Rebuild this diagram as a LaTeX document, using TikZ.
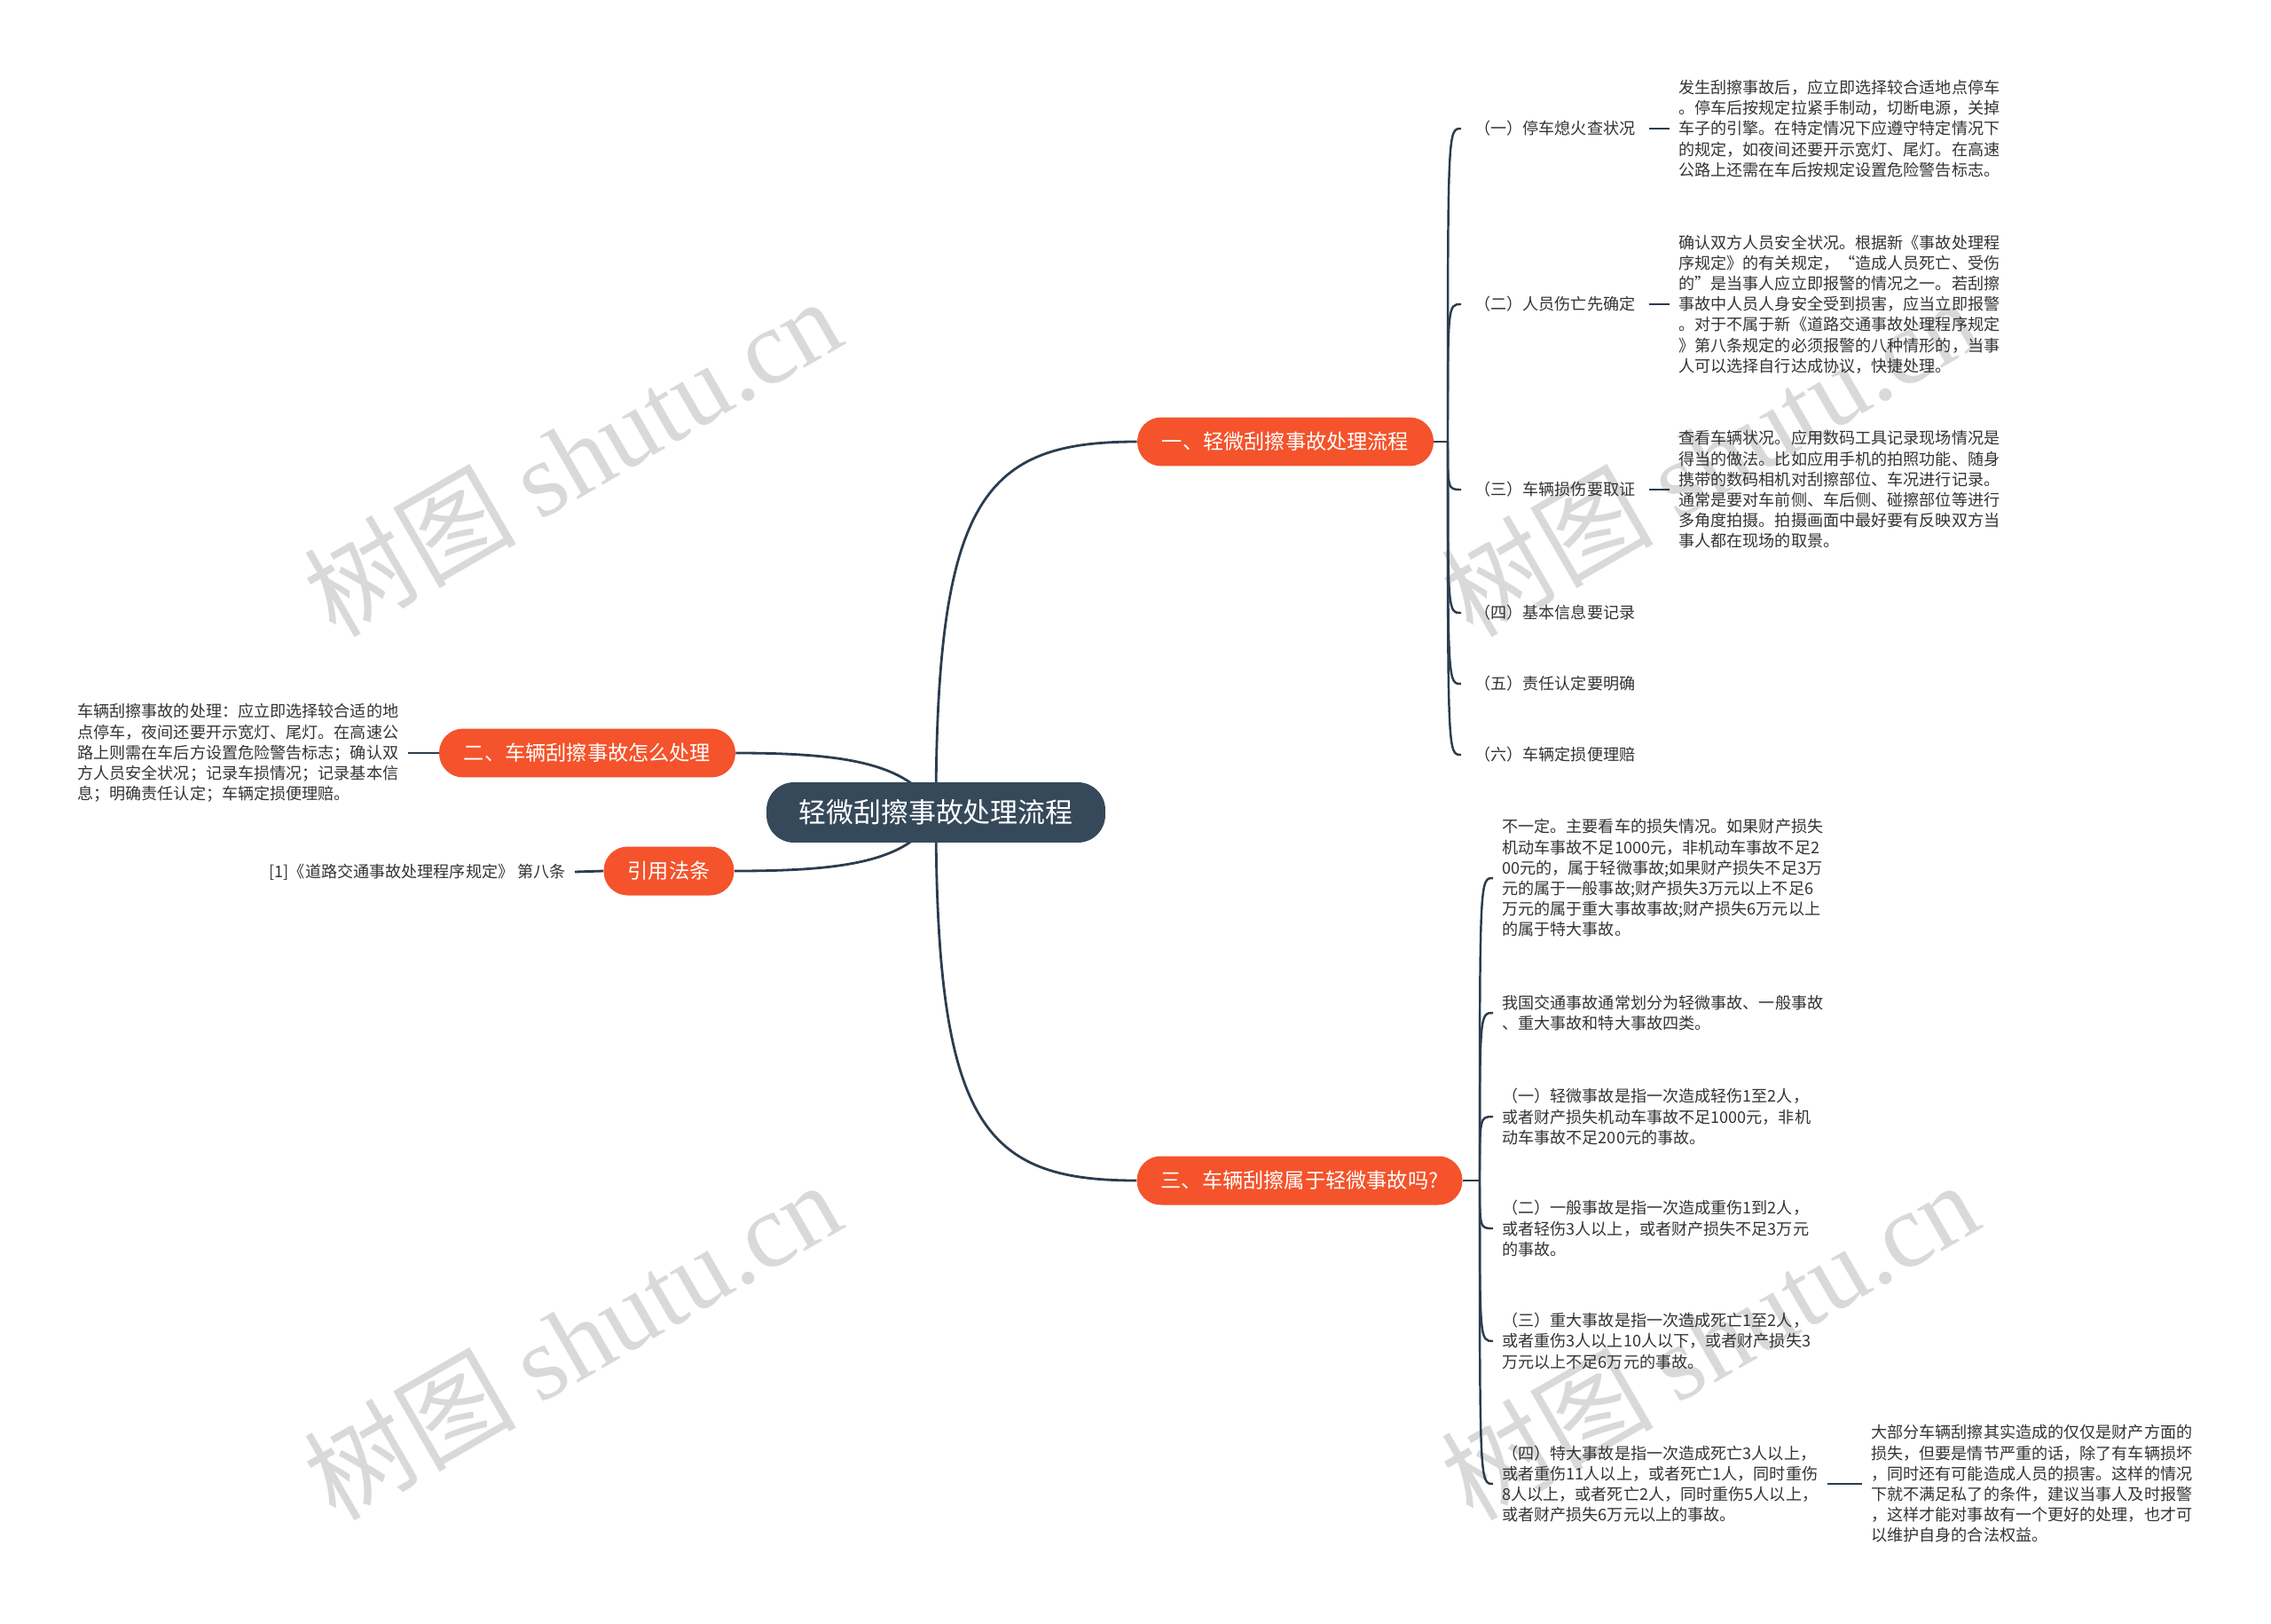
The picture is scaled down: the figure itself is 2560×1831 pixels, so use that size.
\documentclass[tikz,border=0pt]{standalone}
\usepackage{fontspec}
\setmainfont{Noto Sans CJK SC}
\newfontfamily\wmserif{Liberation Serif}
\usetikzlibrary{backgrounds}
\definecolor{rootfill}{HTML}{35495A}
\definecolor{topicfill}{HTML}{F4532B}
\definecolor{linkcol}{HTML}{2B3D4F}
\definecolor{wmgray}{HTML}{D9D9D9}
\definecolor{txtcol}{HTML}{333333}
\tikzset{
  rootbox/.style={fill=rootfill, text=white, rounded corners=0.62cm, minimum width=7.64cm, minimum height=1.36cm, font=\fontsize{17.6}{20}\selectfont},
  topicbox/.style={fill=topicfill, text=white, rounded corners=0.54cm, minimum height=1.1cm, font=\fontsize{13.2}{15}\selectfont},
  subtopic/.style={anchor=west, inner xsep=0.3cm, inner ysep=0pt, text=txtcol, font=\fontsize{10.3}{13.2}\selectfont},
  leaftext/.style={anchor=west, align=left, inner xsep=0.2cm, inner ysep=0pt, text=txtcol, font=\fontsize{10.3}{13.2}\selectfont},
  link/.style={draw=linkcol, line width=1.6pt},
  twig/.style={draw=linkcol, line width=1.4pt},
  watermark/.style={text=wmgray, rotate=30, font=\fontsize{68}{68}\selectfont}
}
\begin{document}
\begin{tikzpicture}[x=0.02cm, y=-0.02cm]
                \useasboundingbox (0, 0) rectangle (2560, 1831);

                \node[watermark] (wm1) at (645, 514) {树图 {\wmserif shutu.cn}};
                \node[watermark] (wm2) at (645, 1510) {树图 {\wmserif shutu.cn}};
                \node[watermark] (wm3) at (1927, 514) {树图 {\wmserif shutu.cn}};
                \node[watermark] (wm4) at (1927, 1510) {树图 {\wmserif shutu.cn}};

                \node[rootbox] (root) at (1055, 916) {轻微刮擦事故处理流程};
                \node[topicbox, minimum width=6.68cm] (t1) at (1449, 498) {一、轻微刮擦事故处理流程};
                \node[topicbox, minimum width=6.68cm] (t2) at (662, 849) {二、车辆刮擦事故怎么处理};
                \node[topicbox, minimum width=2.94cm] (t3) at (754, 982) {引用法条};
                \node[topicbox, minimum width=7.34cm] (t4) at (1465, 1331) {三、车辆刮擦属于轻微事故吗?};

                \begin{scope}[on background layer]
                \draw[link] (root.center) .. controls +(0, -356) and +(-172, 0) .. (t1.west);
                \draw[link] (root.center) .. controls +(0, 354) and +(-172, 0) .. (t4.west);
                \draw[link] (t2.east) .. controls +(121, 0) and +(-27, -56) .. (root.center);
                \draw[link] (t3.east) .. controls +(122, 0) and +(-27, 56) .. (root.center);
                \end{scope}

                \coordinate (s1) at (1632, 498);
                \draw[link] (t1.east) -- (s1);
                \node[subtopic] (a1) at (1647, 145) {（一）停车熄火查状况};
                \node[subtopic] (a2) at (1647, 343) {（二）人员伤亡先确定};
                \node[subtopic] (a3) at (1647, 552) {（三）车辆损伤要取证};
                \node[subtopic] (a4) at (1647, 691) {（四）基本信息要记录};
                \node[subtopic] (a5) at (1647, 771) {（五）责任认定要明确};
                \node[subtopic] (a6) at (1647, 851) {（六）车辆定损便理赔};
                \draw[twig] (s1) .. controls (s1 |- a1.west) .. (a1.west);
                \draw[twig] (s1) .. controls (s1 |- a2.west) .. (a2.west);
                \draw[twig] (s1) .. controls (s1 |- a3.west) .. (a3.west);
                \draw[twig] (s1) .. controls (s1 |- a4.west) .. (a4.west);
                \draw[twig] (s1) .. controls (s1 |- a5.west) .. (a5.west);
                \draw[twig] (s1) .. controls (s1 |- a6.west) .. (a6.west);

                \node[leaftext] (a1x) at (1882, 145) {发生刮擦事故后，应立即选择较合适地点停车\\。停车后按规定拉紧手制动，切断电源，关掉\\车子的引擎。在特定情况下应遵守特定情况下\\的规定，如夜间还要开示宽灯、尾灯。在高速\\公路上还需在车后按规定设置危险警告标志。};
                \node[leaftext] (a2x) at (1882, 343) {确认双方人员安全状况。根据新《事故处理程\\序规定》的有关规定，“造成人员死亡、受伤\\的”是当事人应立即报警的情况之一。若刮擦\\事故中人员人身安全受到损害，应当立即报警\\。对于不属于新《道路交通事故处理程序规定\\》第八条规定的必须报警的八种情形的，当事\\人可以选择自行达成协议，快捷处理。};
                \node[leaftext] (a3x) at (1882, 552) {查看车辆状况。应用数码工具记录现场情况是\\得当的做法。比如应用手机的拍照功能、随身\\携带的数码相机对刮擦部位、车况进行记录。\\通常是要对车前侧、车后侧、碰擦部位等进行\\多角度拍摄。拍摄画面中最好要有反映双方当\\事人都在现场的取景。};
                \draw[link] (a1.east) -- (a1x.west);
                \draw[link] (a2.east) -- (a2x.west);
                \draw[link] (a3.east) -- (a3x.west);

                \node[leaftext] (b1x) at (77, 849) {车辆刮擦事故的处理：应立即选择较合适的地\\点停车，夜间还要开示宽灯、尾灯。在高速公\\路上则需在车后方设置危险警告标志；确认双\\方人员安全状况；记录车损情况；记录基本信\\息；明确责任认定；车辆定损便理赔。};
                \draw[link] (b1x.east) -- (t2.west);
                \node[leaftext, anchor=east] (c1x) at (648, 983) {[1]《道路交通事故处理程序规定》 第八条};
                \draw[link] (c1x.east) -- (t3.west);

                \coordinate (s4) at (1668, 1331);
                \draw[link] (t4.east) -- (s4);
                \node[leaftext] (d1) at (1683, 990) {不一定。主要看车的损失情况。如果财产损失\\机动车事故不足1000元，非机动车事故不足2\\00元的，属于轻微事故;如果财产损失不足3万\\元的属于一般事故;财产损失3万元以上不足6\\万元的属于重大事故事故;财产损失6万元以上\\的属于特大事故。};
                \node[leaftext] (d2) at (1683, 1142) {我国交通事故通常划分为轻微事故、一般事故\\、重大事故和特大事故四类。};
                \node[leaftext] (d3) at (1683, 1259) {（一）轻微事故是指一次造成轻伤1至2人，\\或者财产损失机动车事故不足1000元，非机\\动车事故不足200元的事故。};
                \node[leaftext] (d4) at (1683, 1385) {（二）一般事故是指一次造成重伤1到2人，\\或者轻伤3人以上，或者财产损失不足3万元\\的事故。};
                \node[leaftext] (d5) at (1683, 1512) {（三）重大事故是指一次造成死亡1至2人，\\或者重伤3人以上10人以下，或者财产损失3\\万元以上不足6万元的事故。};
                \node[leaftext] (d6) at (1683, 1673) {（四）特大事故是指一次造成死亡3人以上，\\或者重伤11人以上，或者死亡1人，同时重伤\\8人以上，或者死亡2人，同时重伤5人以上，\\或者财产损失6万元以上的事故。};
                \draw[twig] (s4) .. controls (s4 |- d1.west) .. (d1.west);
                \draw[twig] (s4) .. controls (s4 |- d2.west) .. (d2.west);
                \draw[twig] (s4) .. controls (s4 |- d3.west) .. (d3.west);
                \draw[twig] (s4) .. controls (s4 |- d4.west) .. (d4.west);
                \draw[twig] (s4) .. controls (s4 |- d5.west) .. (d5.west);
                \draw[twig] (s4) .. controls (s4 |- d6.west) .. (d6.west);

                \node[leaftext] (d6x) at (2099, 1673) {大部分车辆刮擦其实造成的仅仅是财产方面的\\损失，但要是情节严重的话，除了有车辆损坏\\，同时还有可能造成人员的损害。这样的情况\\下就不满足私了的条件，建议当事人及时报警\\，这样才能对事故有一个更好的处理，也才可\\以维护自身的合法权益。};
                \draw[link] (d6.east) -- (d6x.west);
\end{tikzpicture}
\end{document}
